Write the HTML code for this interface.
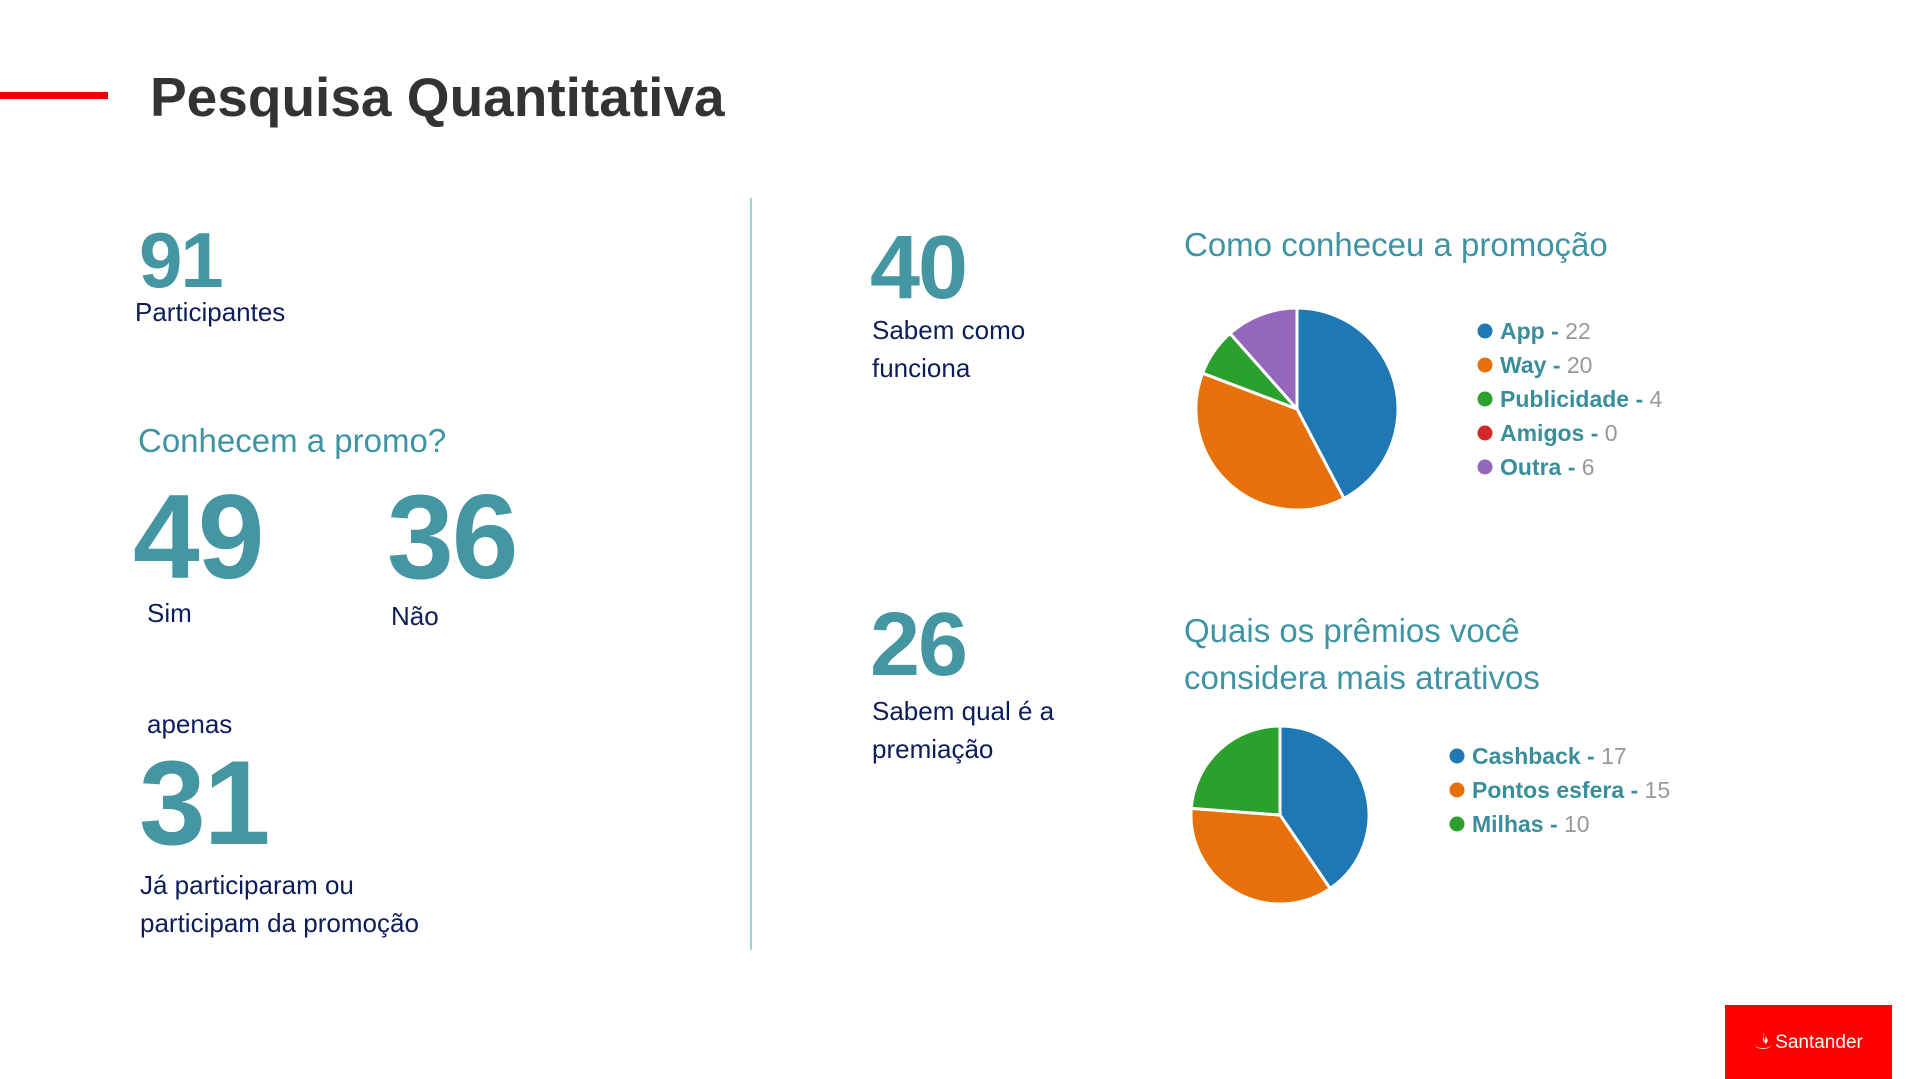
<!DOCTYPE html>
<html><head><meta charset="utf-8"><style>
body{margin:0;width:1920px;height:1079px;background:#fff;position:relative;overflow:hidden;font-family:"Liberation Sans",sans-serif}
.a{position:absolute;white-space:nowrap;line-height:1}
.big{color:#4596a3;font-weight:bold;letter-spacing:-2px}
.nv{color:#0d1d5a;font-size:26px}
.tl{color:#3f94a3;font-size:33px}
</style></head><body>
<div class="a" style="left:0;top:92px;width:108px;height:7px;background:#e8000b"></div>
<div class="a" style="left:150px;top:70px;font-size:55px;font-weight:bold;color:#333">Pesquisa Quantitativa</div>

<div class="a big" style="left:139px;top:221px;font-size:78px">91</div>
<div class="a nv" style="left:135px;top:299px">Participantes</div>
<div class="a tl" style="left:138px;top:424px">Conhecem a promo?</div>
<div class="a big" style="left:133px;top:477px;font-size:120px">49</div>
<div class="a nv" style="left:147px;top:600px">Sim</div>
<div class="a big" style="left:387px;top:477px;font-size:120px">36</div>
<div class="a nv" style="left:391px;top:603px">Não</div>
<div class="a nv" style="left:147px;top:711px">apenas</div>
<div class="a big" style="left:139px;top:743px;font-size:120px">31</div>
<div class="a nv" style="left:140px;top:866px;line-height:38px;white-space:normal;width:400px">Já participaram ou<br>participam da promoção</div>

<div class="a" style="left:750px;top:198px;width:2px;height:752px;background:#9fd0d8"></div>

<div class="a big" style="left:870px;top:223px;font-size:90px">40</div>
<div class="a nv" style="left:872px;top:311px;line-height:38px">Sabem como<br>funciona</div>
<div class="a big" style="left:870px;top:600px;font-size:90px">26</div>
<div class="a nv" style="left:872px;top:692px;line-height:38px">Sabem qual é a<br>premiação</div>

<div class="a tl" style="left:1184px;top:228px">Como conheceu a promoção</div>
<div class="a tl" style="left:1184px;top:607px;line-height:47px">Quais os prêmios você<br>considera mais atrativos</div>

<svg id="svg" class="a" style="left:0;top:0" width="1920" height="1079"></svg>

<div class="a" style="left:1725px;top:1005px;width:167px;height:74px;background:#fe0000;color:#fff;font-size:19px;display:flex;align-items:center;justify-content:center">
<svg width="18" height="20" viewBox="0 0 18 20" style="margin-right:3px"><path d="M9 1c3 3 -2 5 1 9c1-2 2-3 1-6c3 3 4 6 0 8M1 13c1 4 15 4 16 0c0 5-16 5-16 0z" fill="#fff"/></svg>Santander</div>

<script>
const cats1=["App","Way","Publicidade","Amigos","Outra"];
const vals1=[22,20,4,0,6];
const cats2=["Cashback","Pontos esfera","Milhas"];
const vals2=[17,15,10];
const colors=["#1f77b4","#e8700a","#2ca02c","#d62728","#9467bd"];
const NS="http://www.w3.org/2000/svg";
const svg=document.getElementById('svg');
function pie(vals,cx,cy,r,name){
  const tot=vals.reduce((a,b)=>a+b,0);let a0=-Math.PI/2;
  vals.forEach((v,i)=>{if(!v)return;const a1=a0+v/tot*2*Math.PI;
    const p=document.createElementNS(NS,'path');
    const x0=cx+r*Math.cos(a0),y0=cy+r*Math.sin(a0),x1=cx+r*Math.cos(a1),y1=cy+r*Math.sin(a1);
    p.setAttribute('d',`M${cx},${cy}L${x0},${y0}A${r},${r} 0 ${a1-a0>Math.PI?1:0} 1 ${x1},${y1}Z`);
    p.setAttribute('fill',colors[i]);p.setAttribute('stroke','#fff');p.setAttribute('stroke-width','3');
    
    
    svg.appendChild(p);a0=a1;});
}
function legend(cats,vals,x,y){
  cats.forEach((c,i)=>{
    const d=document.createElementNS(NS,'circle');
    d.setAttribute('cx',x);d.setAttribute('cy',y+i*34);d.setAttribute('r',7.5);d.setAttribute('fill',colors[i]);
    
    
    svg.appendChild(d);
    const t=document.createElementNS(NS,'text');
    t.setAttribute('x',x+15);t.setAttribute('y',y+i*34+8);t.setAttribute('font-size','23');
    t.setAttribute('font-family','Liberation Sans, sans-serif');
    t.innerHTML=`<tspan fill="#3a8e9c" font-weight="bold">${c} - </tspan><tspan fill="#999">${vals[i]}</tspan>`;
    
    
    svg.appendChild(t);
  });
}
pie(vals1,1297,409,101);
legend(cats1,vals1,1485,331);
pie(vals2,1280,815,89);
legend(cats2,vals2,1457,756);
</script>
</body></html>
